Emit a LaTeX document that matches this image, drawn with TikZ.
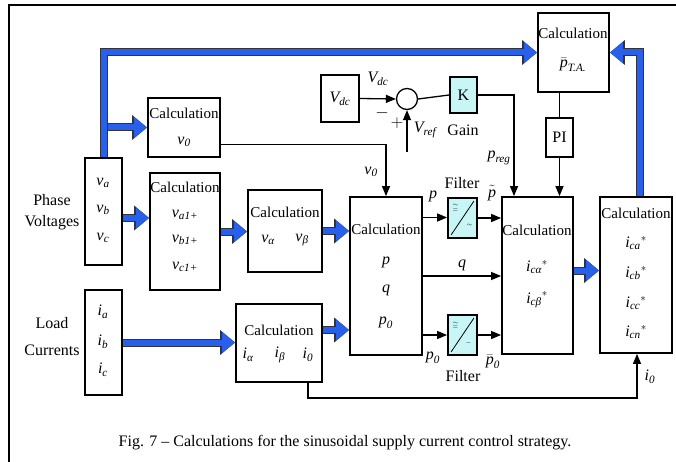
\documentclass[tikz,border=0pt]{standalone}
\usepackage{amsmath}
\usepackage{fontspec}
\setmainfont{Liberation Serif}
\usetikzlibrary{arrows.meta,calc}
\definecolor{blueA}{RGB}{40,95,235}
\definecolor{cyanF}{RGB}{200,246,246}
\newcommand{\vr}[2]{$\textit{#1}_{\textit{#2}}$}
\newcommand{\vs}[2]{$\textit{#1}_{\textit{#2}}{}^{*}$}
\begin{document}
\begin{tikzpicture}[x=1pt,y=-1pt,
 blk/.style={draw, line width=1.8pt, inner sep=0pt, fill=white},
 flt/.style={blk, fill=cyanF},
 ln/.style={line width=1.3pt},
 arr/.style={ln, -{Triangle[length=10pt,width=8pt]}},
 barr/.style={draw=blueA, line width=6pt, -{Triangle[length=13pt,width=20pt]},
   preaction={draw=black!80, line width=8pt, -{Triangle[length=15pt,width=24pt]}}},
 tc/.style={inner sep=0pt, font=\fontsize{15}{17}\selectfont},
 tl/.style={inner sep=0pt, font=\fontsize{16}{18}\selectfont},
 ts/.style={inner sep=0pt, font=\fontsize{6}{6}\selectfont},
]
\useasboundingbox (0,0) rectangle (676,462);
% frame
\draw[line width=2.5pt] (9,462) -- (9,5) -- (676,5);

% boxes
\node[blk, minimum width=37pt, minimum height=107pt] (pv) at (103.5,211.5) {};
\node[blk, minimum width=37pt, minimum height=105pt] (lc) at (103.5,342.5) {};
\node[blk, minimum width=72pt, minimum height=59pt] (c0) at (184,127.5) {};
\node[blk, minimum width=70pt, minimum height=117pt] (c1) at (185,231.5) {};
\node[blk, minimum width=74pt, minimum height=82pt] (cab) at (285,231) {};
\node[blk, minimum width=72pt, minimum height=158pt] (cpq) at (386,276) {};
\node[blk, minimum width=86pt, minimum height=78pt] (ci) at (279,343) {};
\node[blk, minimum width=71pt, minimum height=157pt] (cic) at (537.5,275.5) {};
\node[blk, minimum width=72pt, minimum height=156pt] (cout) at (636,275) {};
\node[blk, minimum width=71pt, minimum height=79pt] (cta) at (573.5,52.5) {};
\node[blk, minimum width=27pt, minimum height=39pt] (pi) at (559.5,137.5) {};
\node[blk, minimum width=38pt, minimum height=47pt] (vdc) at (340,98.5) {};
\node[flt, minimum width=27pt, minimum height=36pt] (kbox) at (463.5,95) {};
\node[flt, minimum width=29pt, minimum height=40pt] (f1) at (462.5,218) {};
\node[flt, minimum width=29pt, minimum height=40pt] (f2) at (462.5,335) {};
\node[circle, draw, line width=1.3pt, fill=white, minimum size=21pt, inner sep=0pt] (sum) at (407,99) {};

% filter symbols
\draw[line width=0.8pt] ($(f1.south west)+(4,-4)$) -- ($(f1.north east)+(-4,4)$);
\draw[line width=0.8pt] ($(f2.south west)+(4,-4)$) -- ($(f2.north east)+(-4,4)$);
\node[ts] (f1a) at ($(f1.center)+(-7,-13)$) {$\sim$};
\node[ts] (f1b) at ($(f1.center)+(-7,-8)$) {$=$};
\node[ts] (f1c) at ($(f1.center)+(7,7)$) {$\sim$};
\node[ts] (f2a) at ($(f2.center)+(-7,-12)$) {$\sim$};
\node[ts] (f2b) at ($(f2.center)+(-7,-8)$) {$=$};
\node[ts] (f2c) at ($(f2.center)+(6,8)$) {$-$};

% blue arrows
\draw[barr] (pv.north) |- (cta.west);
\coordinate (b0) at (107.5,127.5);
\draw[barr] (b0) -- (b0 -| c0.west);
\coordinate (a2) at ($(pv.east)+(0,6.5)$);
\draw[barr] (a2) -- (a2 -| c1.west);
\draw[barr] (c1.east) -- (c1.east -| cab.west);
\draw[barr] (cab.east) -- (cab.east -| cpq.west);
\draw[barr] (lc.east) -- (lc.east -| ci.west);
\coordinate (a1) at ($(ci.east)+(0,-13)$);
\draw[barr] (a1) -- (a1 -| cpq.west);
\coordinate (a3) at ($(cic.east)+(0,-5)$);
\draw[barr] (a3) -- (a3 -| cout.west);
\coordinate (r0) at ($(cout.north)+(4,0)$);
\draw[barr] (r0) |- (cta.east);

% black connectors
\coordinate (v0s) at ($(c0.east)+(0,17)$);
\draw[arr] (v0s) -| (cpq.north);
\draw[arr] (vdc.east) -- (sum.west);
\coordinate (vref) at (407,152);
\draw[arr] (vref) -- (sum.south);
\draw[ln] (sum.east) -- (kbox.west);
\draw[arr] (kbox.east) -| ($(cic.north)+(-23.5,0)$);
\draw[ln] (pi.north |- cta.south) -- (pi.north);
\draw[arr] (pi.south) -- (pi.south |- cic.north);
\coordinate (pp) at ($(cpq.east)+(0,-58.5)$);
\draw[arr] (pp) -- (pp -| f1.west);
\draw[arr] (f1.east) -- (f1.east -| cic.west);
\draw[arr] (cpq.east) -- (cpq.east -| cic.west);
\draw[arr] (cpq.east |- f2.west) -- (f2.west);
\draw[arr] (f2.east) -- (f2.east -| cic.west);
\coordinate (i0s) at ($(ci.south)+(29,0)$);
\draw[arr] (i0s) -- ++(0,15) -| ($(cout.south)+(1,0)$);

% texts left
\node[tl] (lph1) at (52,200) {Phase};
\node[tl] (lph2) at (52,223) {Voltages};
\node[tl] (llc1) at (52,323) {Load};
\node[tl] (llc2) at (52,350) {Currents};
\node[tl] (tva) at (103,183) {\vr{v}{a}};
\node[tl] (tvb) at (103,210) {\vr{v}{b}};
\node[tl] (tvc) at (103,238) {\vr{v}{c}};
\node[tl] (tia) at (103,312) {\vr{i}{a}};
\node[tl] (tib) at (103,342) {\vr{i}{b}};
\node[tl] (tic) at (103,370) {\vr{i}{c}};

% calc box texts
\node[tc] (c0t) at (184,113) {Calculation};
\node[tl] (c0v) at (184,142) {\vr{v}{0}};
\node[tc] (c1t) at (185,187) {Calculation};
\node[tl] (c1a) at (185,215) {\vr{v}{a1+}};
\node[tl] (c1b) at (185,240) {\vr{v}{b1+}};
\node[tl] (c1c) at (185,267) {\vr{v}{c1+}};
\node[tc] (cabt) at (285,212) {Calculation};
\node[tl] (cabA) at (268,240) {\vr{v}{α}};
\node[tl] (cabB) at (302,240) {\vr{v}{β}};
\node[tc] (cpqt) at (386,229) {Calculation};
\node[tl] (cpqp) at (386,262) {\textit{p}};
\node[tl] (cpqq) at (386,290) {\textit{q}};
\node[tl] (cpq0) at (386,323) {\vr{p}{0}};
\node[tc] (cit) at (279,330) {Calculation};
\node[tl] (ciA) at (248,355) {\vr{i}{α}};
\node[tl] (ciB) at (280,355) {\vr{i}{β}};
\node[tl] (ci0) at (308,355) {\vr{i}{0}};
\node[tc] (cict) at (537,230) {Calculation};
\node[tl] (cica) at (537,267) {\vs{i}{cα}};
\node[tl] (cicb) at (537,300) {\vs{i}{cβ}};
\node[tc] (coutt) at (636,213) {Calculation};
\node[tl] (co1) at (636,243) {\vs{i}{ca}};
\node[tl] (co2) at (636,273) {\vs{i}{cb}};
\node[tl] (co3) at (636,303) {\vs{i}{cc}};
\node[tl] (co4) at (636,332) {\vs{i}{cn}};
\node[tc] (ctat) at (573,33) {Calculation};
\node[tl] (ctap) at (573,65) {$\bar{\textit{p}}_{\textit{T.A.}}$};
\node[tl] (pit) at (559.5,137.5) {PI};
\node[tl] (vdct) at (340,99) {\vr{V}{dc}};
\node[tl] (kt) at (463.5,95) {K};

% other labels
\node[tl] (gain) at (463,130) {Gain};
\node[tl] (lvdc) at (378,79) {\vr{V}{dc}};
\node[tl] (lmin) at (382,113) {$-$};
\node[tl] (lplus) at (397,123) {$+$};
\node[tl] (lvref) at (425,130) {\vr{V}{ref}};
\node[tl] (lpreg) at (499,158) {\vr{p}{reg}};
\node[tl] (lv0) at (371,172) {\vr{v}{0}};
\node[tl] (lfil1) at (462,183) {Filter};
\node[tl] (lp) at (433,196) {\textit{p}};
\node[tl] (lpt) at (492,193) {$\tilde{\textit{p}}$};
\node[tl] (lq) at (462,265) {\textit{q}};
\node[tl] (lp0) at (433,358) {\vr{p}{0}};
\node[tl] (lfil2) at (463,376) {Filter};
\node[tl] (lp0b) at (493,362) {$\bar{\textit{p}}_{\textit{0}}$};
\node[tl] (li0) at (650,377) {\vr{i}{0}};

\node[inner sep=0pt, font=\fontsize{16}{19}\selectfont] (cap) at (345,443)
  {Fig. 7 -- Calculations for the sinusoidal supply current control strategy.};
\end{tikzpicture}
\end{document}
